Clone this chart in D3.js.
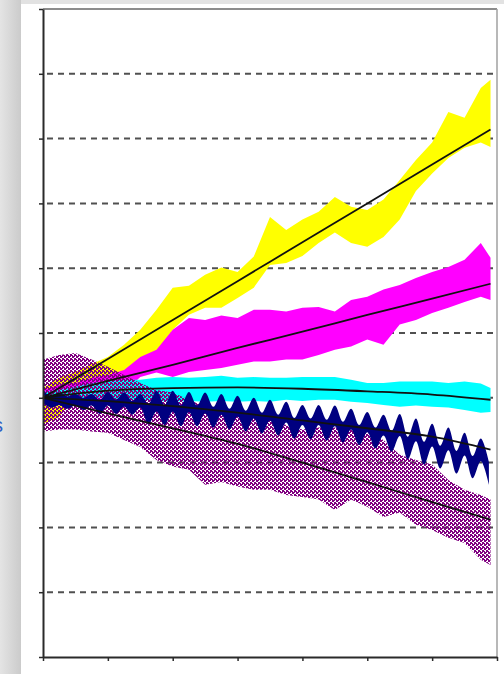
<!DOCTYPE html>
<meta charset="utf-8">
<style>
body { margin: 0; background: #fff; }
svg { display: block; }
</style>
<body>
<script src="https://cdn.jsdelivr.net/npm/d3@7"></script>
<script>

// x positions where the band edges were read
var bandX = [0,0.25,0.5,0.75,1,1.25,1.5,1.75,2,2.25,2.5,2.75,3,3.25,3.5,3.75,4,4.25,4.5,4.75,5,5.25,5.5,5.75,6,6.25,6.5,6.75,6.9];

var yellowHi = [0.15,0.31,0.40,0.52,0.63,0.82,1.05,1.36,1.70,1.73,1.90,2.01,1.94,2.18,2.79,2.59,2.75,2.87,3.10,2.95,2.90,3.06,3.36,3.67,3.94,4.41,4.32,4.78,4.91];
var yellowLo = [-0.40,-0.30,0.09,0.19,0.28,0.31,0.43,0.66,1.05,1.28,1.39,1.39,1.54,1.70,2.05,2.08,2.19,2.39,2.55,2.39,2.33,2.48,2.75,3.19,3.46,3.70,3.86,3.94,3.87];

var magentaHi = [0.12,0.20,0.23,0.31,0.35,0.43,0.63,0.74,1.05,1.23,1.20,1.27,1.23,1.36,1.36,1.33,1.39,1.40,1.33,1.51,1.56,1.67,1.74,1.85,1.94,2.02,2.13,2.39,2.16];
var magentaLo = [-0.11,-0.11,-0.06,-0.03,0.00,0.09,0.32,0.39,0.32,0.40,0.43,0.46,0.51,0.56,0.56,0.59,0.59,0.66,0.74,0.79,0.90,0.82,1.13,1.20,1.31,1.39,1.48,1.56,1.51];

var cyanHi = [0.09,0.12,0.17,0.23,0.25,0.28,0.28,0.31,0.32,0.31,0.32,0.34,0.31,0.32,0.31,0.31,0.32,0.32,0.32,0.28,0.23,0.23,0.25,0.25,0.25,0.23,0.25,0.22,0.15];
var cyanLo = [-0.09,-0.08,-0.06,0.00,0.00,-0.03,-0.03,-0.05,-0.06,-0.05,-0.06,-0.05,-0.06,-0.05,-0.06,-0.03,-0.05,-0.03,-0.03,-0.06,-0.08,-0.11,-0.14,-0.12,-0.14,-0.15,-0.19,-0.23,-0.22];

var purpleHi = [0.59,0.66,0.69,0.59,0.48,0.35,0.23,0.12,0.08,-0.03,-0.14,-0.19,-0.23,-0.26,-0.34,-0.42,-0.49,-0.46,-0.46,-0.49,-0.54,-0.65,-0.88,-0.96,-1.03,-1.27,-1.42,-1.50,-1.57];
var purpleLo = [-0.52,-0.49,-0.49,-0.52,-0.54,-0.65,-0.76,-0.96,-1.06,-1.11,-1.34,-1.30,-1.37,-1.42,-1.42,-1.50,-1.53,-1.57,-1.73,-1.57,-1.68,-1.84,-1.77,-1.96,-2.04,-2.16,-2.24,-2.50,-2.58];

// navy oscillates, so it was read at a finer step
var navyX = [0,0.125,0.25,0.375,0.5,0.625,0.75,0.875,1,1.125,1.25,1.375,1.5,1.625,1.75,1.875,2,2.125,2.25,2.375,2.5,2.625,2.75,2.875,3,3.125,3.25,3.375,3.5,3.625,3.75,3.875,4,4.125,4.25,4.375,4.5,4.625,4.75,4.875,5,5.125,5.25,5.375,5.5,5.625,5.75,5.875,6,6.125,6.25,6.375,6.5,6.625,6.75,6.875];
var navyHi = [0.11,0.03,0.08,0.02,0.06,0,0.06,-0.03,0.09,-0.03,0.08,-0.05,0.06,-0.09,0.11,-0.11,0.11,-0.12,0.09,-0.12,0.08,-0.14,0.06,-0.17,0.03,-0.20,0,-0.23,-0.03,-0.26,-0.06,-0.31,-0.11,-0.32,-0.11,-0.34,-0.12,-0.37,-0.17,-0.42,-0.22,-0.46,-0.26,-0.51,-0.25,-0.60,-0.32,-0.68,-0.40,-0.74,-0.46,-0.82,-0.54,-0.90,-0.63,-0.99];
var navyLo = [-0.08,-0.15,-0.11,-0.17,-0.12,-0.19,-0.12,-0.25,-0.12,-0.25,-0.14,-0.26,-0.15,-0.41,-0.21,-0.42,-0.21,-0.44,-0.22,-0.44,-0.24,-0.46,-0.26,-0.49,-0.29,-0.52,-0.32,-0.55,-0.35,-0.58,-0.38,-0.63,-0.42,-0.64,-0.42,-0.66,-0.44,-0.69,-0.49,-0.73,-0.53,-0.78,-0.58,-0.83,-0.59,-0.95,-0.67,-1.03,-0.75,-1.09,-0.81,-1.17,-0.89,-1.24,-0.98,-1.34];

// black fitted trend lines
var trendX = [0,1,2,3,4,5,6,6.9];
var yellowTrend = [0,0.60,1.20,1.80,2.40,3.00,3.60,4.14];
var magentaTrend = [0,0.26,0.51,0.77,1.02,1.28,1.53,1.76];
var cyanTrend = [0,0.11,0.15,0.16,0.14,0.10,0.05,-0.03];
var navyTrend = [0,-0.05,-0.13,-0.23,-0.35,-0.47,-0.60,-0.80];
var purpleTrend = [0,-0.24,-0.47,-0.71,-1.00,-1.30,-1.61,-1.88];

var yTicks = [-4,-3,-2,-1,0,1,2,3,4,5,6];
var xTicks = [0,1,2,3,4,5,6,7];

var width = 504, height = 674;

var svg = d3.select("body").append("svg")
    .attr("width", width)
    .attr("height", height);

var defs = svg.append("defs");

var grad = defs.append("linearGradient").attr("id", "bg")
    .attr("x1", 0).attr("x2", 1).attr("y1", 0).attr("y2", 0);
grad.append("stop").attr("offset", "0%").attr("stop-color", "#e4e4e4");
grad.append("stop").attr("offset", "100%").attr("stop-color", "#cbcbcb");

// speckled fill for the scattered purple series
var pat = defs.append("pattern").attr("id", "dots")
    .attr("width", 4).attr("height", 4)
    .attr("patternUnits", "userSpaceOnUse");
[[0,0,2,2],[2,2,2,2],[2,0,1,1],[0,3,1,1]].forEach(function(p) {
  pat.append("rect").attr("x", p[0]).attr("y", p[1])
      .attr("width", p[2]).attr("height", p[3]).attr("fill", "#800080");
});

// page background: grey strip on the left, white panel
svg.append("rect").attr("width", width).attr("height", height).attr("fill", "#e2e2e2");
svg.append("rect").attr("width", 21).attr("height", height).attr("fill", "url(#bg)");
svg.append("rect").attr("x", 21).attr("y", 4)
    .attr("width", width - 21).attr("height", height - 4).attr("fill", "#fff");

svg.append("text")
    .attr("x", 3).attr("y", 432)
    .attr("text-anchor", "end")
    .attr("font-family", "Arial, 'Liberation Sans', sans-serif")
    .attr("font-size", 20)
    .attr("fill", "#2f5fc4")
    .text("s");

var x = d3.scaleLinear().domain([0, 7]).range([43, 497]);
var y = d3.scaleLinear().domain([-4, 6]).range([657, 9]);

// dashed gridlines
svg.append("g").selectAll("line")
    .data(yTicks.filter(function(d) { return d > -4 && d < 6; }))
  .enter().append("line")
    .attr("x1", x(0) + 4).attr("x2", x(7))
    .attr("y1", function(d) { return y(d); })
    .attr("y2", function(d) { return y(d); })
    .attr("stroke", "#505050")
    .attr("stroke-width", 2)
    .attr("stroke-dasharray", "6,5");

// top and right borders of the plot area
svg.append("line").attr("x1", x(0)).attr("x2", x(7)).attr("y1", y(6)).attr("y2", y(6))
    .attr("stroke", "#8c8c8c").attr("stroke-width", 2);
svg.append("line").attr("x1", x(7)).attr("x2", x(7)).attr("y1", y(6)).attr("y2", y(-4))
    .attr("stroke", "#a0a0a0").attr("stroke-width", 1.5);

function band(xs, hi, lo, curve) {
  return d3.area()
      .x(function(d, i) { return x(xs[i]); })
      .y0(function(d, i) { return y(lo[i]); })
      .y1(function(d, i) { return y(hi[i]); })
      .curve(curve || d3.curveLinear)(hi);
}

var plot = svg.append("g");
plot.append("path").attr("d", band(bandX, yellowHi, yellowLo)).attr("fill", "#ffff00");
plot.append("path").attr("d", band(bandX, magentaHi, magentaLo)).attr("fill", "#ff00ff");
plot.append("path").attr("d", band(bandX, cyanHi, cyanLo)).attr("fill", "#00ffff");
plot.append("path").attr("d", band(bandX, purpleHi, purpleLo)).attr("fill", "url(#dots)");
plot.append("path").attr("d", band(navyX, navyHi, navyLo, d3.curveCatmullRom.alpha(0.5)))
    .attr("fill", "#000080");

var trend = d3.line()
    .x(function(d, i) { return x(trendX[i]); })
    .y(function(d) { return y(d); })
    .curve(d3.curveMonotoneX);

[yellowTrend, magentaTrend, cyanTrend, navyTrend, purpleTrend].forEach(function(t) {
  plot.append("path").attr("d", trend(t))
      .attr("fill", "none")
      .attr("stroke", "#111")
      .attr("stroke-width", 1.8);
});

// axes
var yAxis = svg.append("g")
    .attr("transform", "translate(" + x(0) + ",0)")
    .call(d3.axisLeft(y).tickValues(yTicks).tickSize(4).tickSizeOuter(0).tickFormat(""));
var xAxis = svg.append("g")
    .attr("transform", "translate(0," + y(-4) + ")")
    .call(d3.axisBottom(x).tickValues(xTicks).tickSize(4).tickSizeOuter(0).tickFormat(""));

[yAxis, xAxis].forEach(function(a) {
  a.select(".domain").attr("stroke", "#2a2a2a").attr("stroke-width", 2);
  a.selectAll(".tick line").attr("stroke", "#2a2a2a").attr("stroke-width", 1.5);
});

</script>
